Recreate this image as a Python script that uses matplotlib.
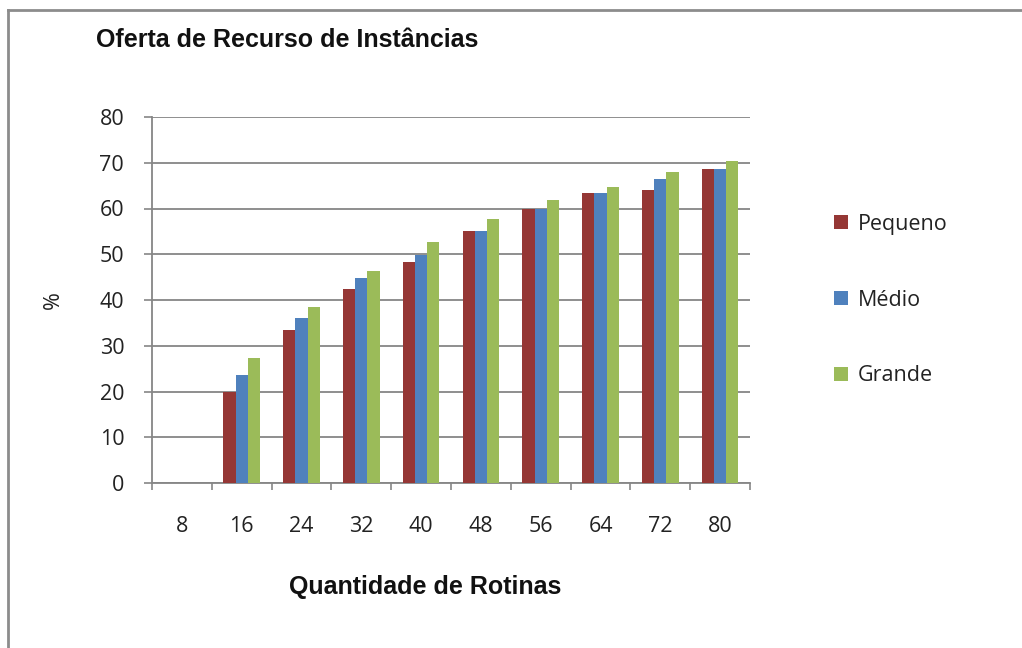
import matplotlib
matplotlib.use("Agg")
import matplotlib.pyplot as plt
from matplotlib.lines import Line2D
import numpy as np

categories = ["8", "16", "24", "32", "40", "48", "56", "64", "72", "80"]
pequeno = [0, 20.0, 33.5, 42.5, 48.2, 55.1, 60.0, 63.4, 64.0, 68.7]
medio   = [0, 23.6, 36.0, 44.7, 49.8, 55.1, 60.0, 63.4, 66.5, 68.7]
grande  = [0, 27.3, 38.5, 46.4, 52.6, 57.8, 61.8, 64.7, 67.9, 70.4]
series_names = ["Pequeno", "Médio", "Grande"]
colors = ["#953735", "#4F81BD", "#9BBB59"]
yticks = [0, 10, 20, 30, 40, 50, 60, 70, 80]

W, H = 1022, 648
fig = plt.figure(figsize=(W / 100, H / 100), dpi=100)
ax = fig.add_axes([152 / W, 1 - 483 / H, (750 - 152) / W, (483 - 117) / H])

tick_font = "Open Sans"
bold_font = "Liberation Sans"
fs = 15.5

x = np.arange(len(categories))
bw = 0.205
for i, (vals, name, c) in enumerate(zip([pequeno, medio, grande], series_names, colors)):
    ax.bar(x + (i - 1) * bw, vals, width=bw, color=c, label=name, zorder=3)

ax.set_xlim(-0.5, len(categories) - 0.5)
ax.set_ylim(0, 80)
ax.set_yticks(yticks)
ax.set_yticklabels([str(v) for v in yticks], fontfamily=tick_font, fontsize=fs, color="#222222")
ax.set_xticks(x)
ax.set_xticklabels(categories, fontfamily=tick_font, fontsize=fs, color="#222222")
ax.set_xticks(np.arange(-0.5, len(categories), 1.0), minor=True)
ax.tick_params(axis="x", which="major", length=0, pad=24)
ax.tick_params(axis="x", which="minor", length=5, width=1.2, color="#868686", direction="out")
ax.tick_params(axis="y", which="major", length=6, width=1.2, color="#868686", direction="out", pad=14)

ax.grid(axis="y", color="#868686", linewidth=1.3, zorder=0)
ax.set_axisbelow(True)
for s in ["top", "right"]:
    ax.spines[s].set_visible(False)
for s in ["left", "bottom"]:
    ax.spines[s].set_color("#868686")
    ax.spines[s].set_linewidth(1.3)

ax.set_ylabel("%", fontfamily=tick_font, fontsize=fs, color="#222222")
ax.yaxis.set_label_coords((64 - 152) / 598, 0.5)

fig.text(425 / W, 1 - 594 / H, "Quantidade de Rotinas", fontfamily=bold_font,
         fontweight="bold", fontsize=18, ha="center", va="baseline", color="#111111")
fig.text(96 / W, 1 - 47 / H, "Oferta de Recurso de Instâncias", fontfamily=bold_font,
         fontweight="bold", fontsize=18, ha="left", va="baseline", color="#111111")

leg = ax.legend(loc="center left", bbox_to_anchor=(815 / W, 1 - 300 / H),
                bbox_transform=fig.transFigure, frameon=False,
                prop={"family": tick_font, "size": fs},
                handlelength=0.65, handleheight=0.65, handletextpad=0.45,
                labelspacing=2.55)
for t in leg.get_texts():
    t.set_color("#222222")

# chart area border (top and left visible)
fig.add_artist(Line2D([8 / W, 1.0], [1 - 10 / H, 1 - 10 / H], transform=fig.transFigure,
                      color="#8c8c8c", linewidth=2))
fig.add_artist(Line2D([8 / W, 8 / W], [0, 1 - 10 / H], transform=fig.transFigure,
                      color="#8c8c8c", linewidth=2))

fig.savefig("out.png", dpi=100)
